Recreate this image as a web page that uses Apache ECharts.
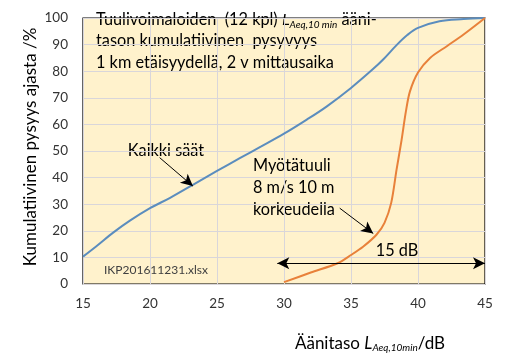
<!DOCTYPE html>
<html>
<head>
<meta charset="utf-8">
<script src="https://cdn.jsdelivr.net/npm/echarts@6/dist/echarts.min.js"></script>
<style>html,body{margin:0;padding:0;background:#fff}#c{width:510px;height:359px}</style>
</head>
<body>
<div id="c"></div>
<script>
// Data
const blueX = [15, 16, 17.25, 18.5, 20, 21.5, 23.2, 25, 26.7, 28.3, 30, 31.7, 33.2, 35, 36.6, 37.4, 38.4, 39.2, 40, 41.6, 43.4, 45];
const blueY = [10.3, 14.2, 19.3, 23.8, 28.5, 32.4, 37.3, 42.5, 47.3, 51.7, 56.5, 61.8, 66.8, 73.7, 80.6, 84.4, 89.8, 93.6, 96.3, 98.8, 99.6, 100];
const orangeX = [30, 32, 34, 35, 35.9, 36.9, 37.5, 38.0, 38.4, 38.77, 39.1, 39.4, 40, 40.9, 42.15, 43.4, 45];
const orangeY = [0.7, 4.3, 7.8, 10.9, 14, 18.5, 23, 30.5, 43, 54, 65, 72.4, 79.5, 85, 89.4, 93.8, 100];
const xTicks = [15, 20, 25, 30, 35, 40, 45];
const yTicks = [0, 10, 20, 30, 40, 50, 60, 70, 80, 90, 100];
// annotation arrows in data coordinates
const arrowKaikki = [[20.72, 47.5], [23.2, 36.8]];
const arrowMyota = [[34.16, 28.5], [36.66, 19.0]];
const arrow15dB = [[29.5, 7.8], [45, 7.8]];

const FONT = 'Lato, "Open Sans", sans-serif';
const chart = echarts.init(document.getElementById('c'));
const pairs = (xs, ys) => xs.map((x, i) => [x, ys[i]]);
const arrowLine = (pts, sym) => ({
  silent: true, animation: false,
  symbol: sym, symbolSize: [9, 12],
  lineStyle: {color: '#000', width: 1, type: 'solid'},
  label: {show: false},
  data: [[{coord: pts[0]}, {coord: pts[1]}]]
});
const sub = {fontSize: 10, fontStyle: 'italic', fontFamily: FONT, padding: [6, 0, 0, 0], verticalAlign: 'bottom'};

chart.setOption({
  animation: false,
  backgroundColor: '#fff',
  grid: {left: 83, right: 25, top: 18, bottom: 75, show: true, backgroundColor: '#FFF2CC', borderColor: '#000', borderWidth: 1.2},
  xAxis: {
    type: 'value', min: 15, max: 45, interval: 5,
    axisLine: {show: false}, axisTick: {show: false},
    axisLabel: {color: '#333', fontSize: 13.5, fontFamily: FONT, margin: 13, formatter: v => xTicks.includes(v) ? String(v) : ''},
    splitLine: {lineStyle: {color: '#D9D6DA', width: 1}}
  },
  yAxis: {
    type: 'value', min: 0, max: 100, interval: 10,
    axisLine: {show: false}, axisTick: {show: false},
    axisLabel: {color: '#333', fontSize: 13.5, fontFamily: FONT, margin: 15, formatter: v => yTicks.includes(v) ? String(v) : ''},
    splitLine: {lineStyle: {color: '#D9D6DA', width: 1}}
  },
  series: [
    {type: 'line', data: pairs(blueX, blueY), smooth: 0.35, showSymbol: false,
     lineStyle: {color: '#5B8DBE', width: 2}, itemStyle: {color: '#5B8DBE'},
     markLine: arrowLine(arrowKaikki, ['none', 'arrow'])},
    {type: 'line', data: pairs(orangeX, orangeY), smooth: 0.3, showSymbol: false,
     lineStyle: {color: '#E8813A', width: 2}, itemStyle: {color: '#E8813A'},
     markLine: arrowLine(arrowMyota, ['none', 'arrow'])},
    {type: 'line', data: [], markLine: arrowLine(arrow15dB, ['arrow', 'arrow'])}
  ],
  graphic: [
    {type: 'text', x: 96, y: 41, style: {
      text: 'Tuulivoimaloiden  (12 kpl) {i|L}{s|Aeq,10 min} ääni-\ntason kumulatiivinen  pysyvyys\n1 km etäisyydellä, 2 v mittausaika',
      font: '16.3px ' + FONT, fill: '#000', lineHeight: 21.5, verticalAlign: 'middle',
      rich: {i: {fontStyle: 'italic', fontSize: 16.3, fontFamily: FONT, lineHeight: 21.5}, s: Object.assign({}, sub, {lineHeight: 21.5})}
    }},
    {type: 'text', x: 166, y: 151, style: {text: 'Kaikki säät', font: '16.3px ' + FONT, fill: '#000', align: 'center', verticalAlign: 'middle'}},
    {type: 'text', x: 253, y: 188, style: {text: 'Myötätuuli\n8 m/s 10 m\nkorkeudella', font: '16.3px ' + FONT, fill: '#000', lineHeight: 22, verticalAlign: 'middle'}},
    {type: 'text', x: 397, y: 251, style: {text: '15 dB', font: '16.3px ' + FONT, fill: '#000', align: 'center', verticalAlign: 'middle'}},
    {type: 'text', x: 104, y: 270, style: {text: 'IKP201611231.xlsx', font: '12px ' + FONT, fill: '#404040', verticalAlign: 'middle'}},
    {type: 'text', x: 370, y: 344, style: {
      text: 'Äänitaso {i|L}{s|Aeq,10min}/dB', font: '17px ' + FONT, fill: '#000', align: 'center', verticalAlign: 'middle',
      rich: {i: {fontStyle: 'italic', fontSize: 17, fontFamily: FONT}, s: sub}
    }},
    {type: 'text', x: 31, y: 147, rotation: Math.PI / 2, style: {
      text: 'Kumulatiivinen pysyys ajasta /%', font: '17px ' + FONT, fill: '#000', align: 'center', verticalAlign: 'middle'
    }}
  ]
});
</script>
</body>
</html>
